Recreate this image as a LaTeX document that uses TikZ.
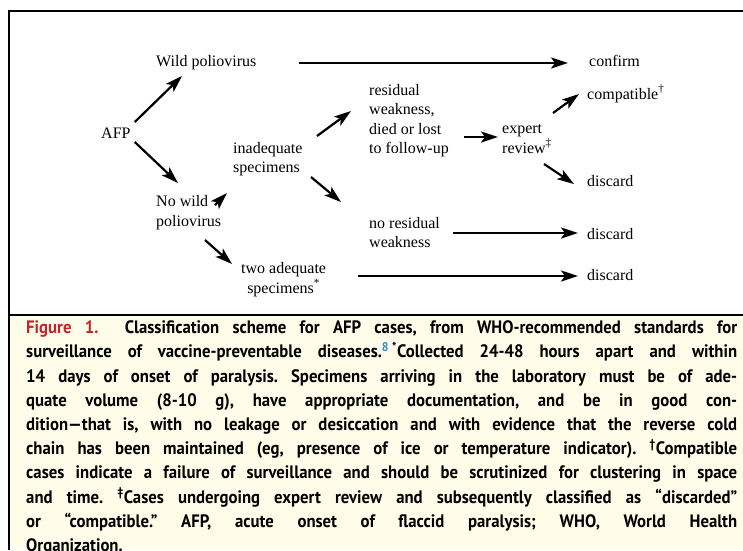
\documentclass[tikz,border=0pt]{standalone}
\usepackage{fontspec}
\setmainfont{Liberation Serif}
\newfontfamily\capfont[FakeStretch=0.93]{PT Sans}
\usetikzlibrary{arrows.meta}
\definecolor{capbg}{RGB}{255,253,234}
\definecolor{figred}{RGB}{196,36,43}
\definecolor{refblue}{RGB}{40,140,205}
\tikzset{
  lbl/.style={inner sep=0pt, anchor=base west, align=left,
    font=\fontsize{16}{19.5}\selectfont},
  flow/.style={-{Stealth[length=17pt,width=11pt,inset=4pt]}, line width=2.2pt},
  capt/.style={inner sep=0pt, anchor=base west, align=left,
    font=\capfont\bfseries\fontsize{18}{24.2}\selectfont\frenchspacing},
}
\newcommand{\capline}[1]{\makebox[711pt][s]{#1}}

\begin{document}
\begin{tikzpicture}[x=1pt,y=-1pt]
\useasboundingbox (0,0) rectangle (743,550);
% frame and caption panel
\fill[capbg] (9,315) rectangle (743,550);
\draw[line width=2pt] (743,11) -- (9,11) -- (9,550);
\draw[line width=2pt] (9,315) -- (743,315);

% classification nodes (placed by the baseline of their last line)
\node[lbl] (afp) at (101,138) {AFP};
\node[lbl] (wild) at (156,66) {Wild poliovirus};
\node[lbl] (confirm) at (589,66) {confirm};
\node[lbl] (nowild) at (156,226) {No wild\\poliovirus};
\node[lbl] (inadeq) at (233,172.5) {inadequate\\specimens};
\node[lbl, align=center] (twoadeq) at (241,293) {two adequate\\specimens\textsuperscript{*}};
\node[lbl] (resid) at (369,153.5) {residual\\weakness,\\died or lost\\to follow-up};
\node[lbl] (expert) at (502,153) {expert\\review\textsuperscript{\textdaggerdbl}};
\node[lbl] (compat) at (587,99) {compatible\textsuperscript{\textdagger}};
\node[lbl] (disc1) at (587,186) {discard};
\node[lbl] (noresid) at (369,247.5) {no residual\\weakness};
\node[lbl] (disc2) at (587,239) {discard};
\node[lbl] (disc3) at (587,280) {discard};

% arrows
\draw[flow] ([shift={(4,-16)}]afp.base east) -- ([shift={(26,10)}]wild.base west);
\draw[flow] ([shift={(4,4)}]afp.base east) -- ([shift={(22,-43)}]nowild.base west);
\draw[flow] ([shift={(42,-3)}]wild.base east) -- ([shift={(-21,-3)}]confirm.base west);
\draw[flow] ([shift={(59,-21)}]nowild.base west) -- ([shift={(-6,20.5)}]inadeq.base west);
\draw[flow] ([shift={(84,-36.5)}]inadeq.base west) -- ([shift={(-18,-42.5)}]resid.base west);
\draw[flow] ([shift={(78,4.5)}]inadeq.base west) -- ([shift={(-28,-45.5)}]noresid.base west);
\draw[flow] ([shift={(49,14)}]nowild.base west) -- ([shift={(-9,-29)}]twoadeq.base west);
\draw[flow] ([shift={(95,-16.5)}]resid.base west) -- ([shift={(-4,-16)}]expert.base west);
\draw[flow] ([shift={(51,-40)}]expert.base west) -- ([shift={(-8,-5)}]compat.base west);
\draw[flow] ([shift={(42,11)}]expert.base west) -- ([shift={(-13,-2)}]disc1.base west);
\draw[flow] ([shift={(84,-14.5)}]noresid.base west) -- ([shift={(-9,-6)}]disc2.base west);
\draw[flow] ([shift={(117,-17)}]twoadeq.base west) -- ([shift={(-9,-4)}]disc3.base west);

% caption
\node[capt] (caption) at (26,551.5) {%
\capline{{\color{figred}Figure 1.}\ \ Classification scheme for AFP cases, from WHO-recommended standards for}\\
\capline{surveillance of vaccine-preventable diseases.\textsuperscript{\color{refblue}8}\,\textsuperscript{*}Collected 24-48 hours apart and within}\\
\capline{14 days of onset of paralysis. Specimens arriving in the laboratory must be of ade-}\\
\capline{quate volume (8-10 g), have appropriate documentation, and be in good con-}\\
\capline{dition—that is, with no leakage or desiccation and with evidence that the reverse cold}\\
\capline{chain has been maintained (eg, presence of ice or temperature indicator). \textsuperscript{\textdagger}Compatible}\\
\capline{cases indicate a failure of surveillance and should be scrutinized for clustering in space}\\
\capline{and time. \textsuperscript{\textdaggerdbl}Cases undergoing expert review and subsequently classified as “discarded”}\\
\capline{or “compatible.” AFP, acute onset of flaccid paralysis; WHO, World Health}\\
Organization.};
\end{tikzpicture}
\end{document}
